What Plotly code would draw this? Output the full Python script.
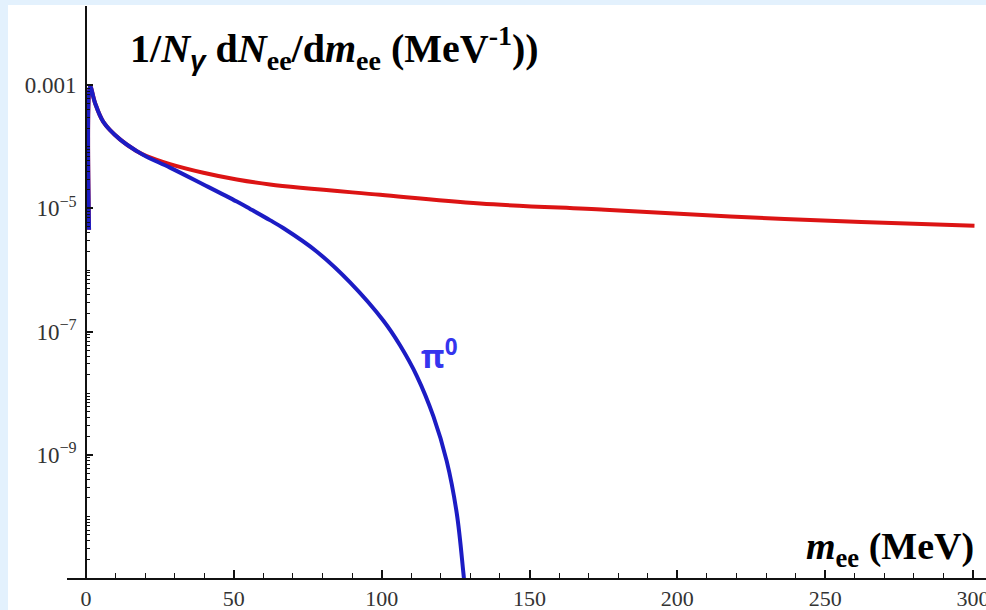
import plotly.graph_objects as go

# Dielectron mass spectra, 1/N_gamma dN_ee/dm_ee (MeV^-1)
m_gamma = [1.03, 1.4, 3.0, 5.85, 11.5, 17.2, 20.5, 28.4, 39.7, 51.0, 62.2,
           99.5, 133.3, 175.6, 217.9, 262.2, 300.5]
dn_gamma = [4.5e-6, 9.6e-4, 5.25e-4, 2.55e-4, 1.32e-4, 8.5e-5, 7.1e-5,
            5.25e-5, 3.8e-5, 2.95e-5, 2.45e-5, 1.66e-5, 1.2e-5, 9.5e-6,
            7.4e-6, 6.0e-6, 5.25e-6]

m_pi0 = [1.03, 1.4, 3.0, 5.85, 11.5, 17.2, 20.5, 28.4, 39.7, 51.0, 55.5,
         62.2, 66.7, 78.0, 89.3, 100.6, 106.2, 111.9, 117.5, 122.0, 125.4,
         127.6, 128.4]
dn_pi0 = [4.5e-6, 9.6e-4, 5.25e-4, 2.55e-4, 1.32e-4, 8.5e-5, 6.9e-5, 4.6e-5,
          2.45e-5, 1.29e-5, 9.8e-6, 6.45e-6, 4.8e-6, 2.0e-6, 6.3e-7, 1.5e-7,
          6.0e-8, 1.9e-8, 4.2e-9, 7.9e-10, 1.12e-10, 1.26e-11, 5e-12]

x_ticks = [0, 50, 100, 150, 200, 250, 300]
y_ticks = [1e-9, 1e-7, 1e-5, 1e-3]
y_ticktext = ["10<sup>\u22129</sup>", "10<sup>\u22127</sup>",
              "10<sup>\u22125</sup>", "0.001"]

RED = "#dc1414"
BLUE = "#1c1cc4"
LABEL_BLUE = "#3535ee"
BORDER = "#e3f1fd"

# minor log ticks: 2..9 x 10^n plus the unlabeled decades
y_minor = [k * 10.0 ** n for n in range(-11, -3) for k in range(1, 10)
           if not (k == 1 and 10.0 ** n in [1e-9, 1e-7, 1e-5, 1e-3])]

fig = go.Figure()
fig.add_trace(go.Scatter(
    x=m_gamma, y=dn_gamma, mode="lines",
    line=dict(color=RED, width=4, shape="spline", smoothing=1.0),
    hoverinfo="skip", showlegend=False))
fig.add_trace(go.Scatter(
    x=m_pi0, y=dn_pi0, mode="lines",
    line=dict(color=BLUE, width=4, shape="spline", smoothing=1.0),
    hoverinfo="skip", showlegend=False))

W, H = 986, 610
ML, MR, MT, MB = 67, 0, 6, 32
pw, ph = W - ML - MR, H - MT - MB


def px_x(px):
    return (px - ML) / pw


def px_y(py):
    return (H - MB - py) / ph


fig.update_layout(
    width=W, height=H,
    margin=dict(l=ML, r=MR, t=MT, b=MB, autoexpand=False),
    paper_bgcolor=BORDER,
    plot_bgcolor="white",
    xaxis=dict(
        range=[-6.43, 304.4], showgrid=False, zeroline=False,
        automargin=False,
        showline=True, linecolor="#111111", linewidth=1.8,
        tickmode="array", tickvals=x_ticks, ticks="inside", ticklen=8,
        tickwidth=1.5, tickcolor="#111111", ticklabeloverflow="allow",
        ticklabelstandoff=0,
        tickfont=dict(family="Liberation Serif", size=22, color="#333333"),
        minor=dict(dtick=10, tick0=0, ticks="inside", ticklen=5,
                   tickwidth=1.2, tickcolor="#111111", showgrid=False),
    ),
    yaxis=dict(
        type="log", range=[-11, -1.714], showgrid=False, zeroline=False,
        automargin=False,
        anchor="free", position=px_x(86), side="left",
        showline=True, linecolor="#111111", linewidth=1.8,
        tickmode="array", tickvals=y_ticks, ticktext=y_ticktext,
        ticks="inside", ticklen=6, tickwidth=1.5, tickcolor="#111111",
        ticklabelstandoff=4,
        tickfont=dict(family="Liberation Serif", size=23, color="#333333"),
        minor=dict(tickmode="array", tickvals=y_minor, ticks="inside",
                   ticklen=3.5, tickwidth=1.2, tickcolor="#111111",
                   showgrid=False),
    ),
    shapes=[dict(type="rect", xref="paper", yref="paper", layer="below",
                 x0=px_x(8), x1=px_x(W + 2), y0=px_y(H + 2), y1=px_y(5),
                 fillcolor="white", line=dict(width=0))],
    annotations=[
        dict(xref="paper", yref="paper", x=px_x(128), y=px_y(48),
             xanchor="left", yanchor="middle", showarrow=False,
             font=dict(family="Liberation Serif", size=40, color="black"),
             text="<b>1/<i>N</i><sub><span style='font-family:Liberation Sans'><i>\u03b3</i></span></sub>"
                  " d<i>N</i><sub>ee</sub>/d<i>m</i><sub>ee</sub> (MeV<sup>-1</sup>))</b>"),
        dict(xref="paper", yref="paper", x=px_x(976), y=px_y(549),
             xanchor="right", yanchor="middle", showarrow=False,
             font=dict(family="Liberation Serif", size=38, color="black"),
             text="<b><i>m</i><sub>ee</sub> (MeV)</b>"),
        dict(xref="paper", yref="paper", x=px_x(419), y=px_y(354),
             xanchor="left", yanchor="middle", showarrow=False,
             font=dict(family="Open Sans", size=32, color=LABEL_BLUE),
             text="<b>\u03c0<sup>0</sup></b>"),
    ],
)

fig.write_html("out.html")
